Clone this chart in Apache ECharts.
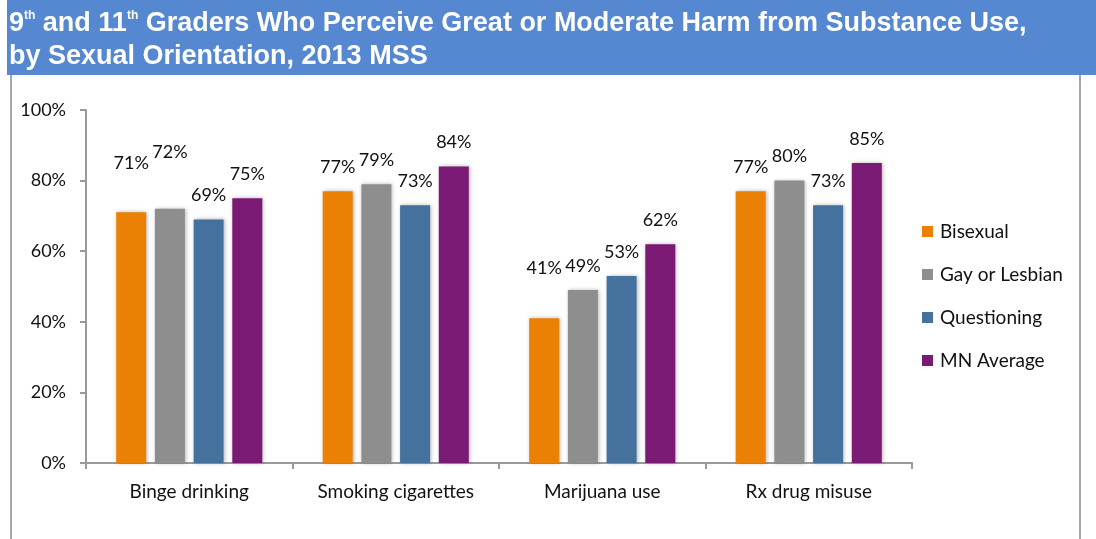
<!DOCTYPE html>
<html>
<head>
<meta charset="utf-8">
<script src="https://cdn.jsdelivr.net/npm/echarts@6/dist/echarts.min.js"></script>
<style>
  html, body { margin: 0; padding: 0; background: #fff; }
  #chart { width: 1096px; height: 539px; }
</style>
</head>
<body>
<div id="chart"></div>
<script>
// Survey categories and the share of students perceiving harm (%)
const categories = ['Binge drinking', 'Smoking cigarettes', 'Marijuana use', 'Rx drug misuse'];
const seriesNames = ['Bisexual', 'Gay or Lesbian', 'Questioning', 'MN Average'];
const bisexual = [71, 77, 41, 77];
const gayLesbian = [72, 79, 49, 80];
const questioning = [69, 73, 53, 73];
const mnAverage = [75, 84, 62, 85];
const yTicks = [0, 20, 40, 60, 80, 100];

const colors = ['#EA8104', '#8E8E8E', '#45719F', '#7B1A74'];
const FONT = 'Lato, "Open Sans", sans-serif';
const TITLE_FONT = '"Liberation Sans", Arial, sans-serif';

// a few value labels sit higher above their bars to avoid crowding
const labelLift = { '0-0': 25, '1-0': 33, '0-2': 26 };

function makeSeries(name, values, si) {
  return {
    name: name,
    type: 'bar',
    barWidth: 30,
    barGap: '29%',
    itemStyle: {
      color: colors[si],
      shadowBlur: 4,
      shadowColor: 'rgba(0,0,0,0.28)',
      shadowOffsetX: 1
    },
    label: {
      show: true,
      position: 'top',
      distance: 15,
      formatter: '{c}%',
      fontFamily: FONT,
      fontSize: 18,
      color: '#111'
    },
    data: values.map(function (v, ci) {
      const lift = labelLift[si + '-' + ci];
      return lift ? { value: v, label: { offset: [0, -lift] } } : v;
    })
  };
}

const chart = echarts.init(document.getElementById('chart'));
chart.setOption({
  animation: false,
  backgroundColor: '#ffffff',
  graphic: [
    { type: 'rect', shape: { x: 7, y: 0, width: 1089, height: 75 }, style: { fill: '#5588D0' }, z: 0 },
    { type: 'line', shape: { x1: 11, y1: 75, x2: 11, y2: 539 }, style: { stroke: '#a6a6a6', lineWidth: 2 } },
    { type: 'line', shape: { x1: 1080, y1: 75, x2: 1080, y2: 539 }, style: { stroke: '#a6a6a6', lineWidth: 2 } }
  ],
  title: {
    left: 4,
    top: 2,
    text: '{m|9}{s|th}{m| and 11}{s|th}{m| Graders Who Perceive Great or Moderate Harm from Substance Use,}\n{m|by Sexual Orientation, 2013 MSS}',
    textStyle: {
      color: '#fff',
      fontFamily: TITLE_FONT,
      fontWeight: 'bold',
      fontSize: 27,
      lineHeight: 33,
      rich: {
        m: { color: '#fff', fontFamily: TITLE_FONT, fontWeight: 'bold', fontSize: 27, lineHeight: 33 },
        s: { color: '#fff', fontFamily: TITLE_FONT, fontWeight: 'bold', fontSize: 12, lineHeight: 33, verticalAlign: 'top', padding: [3, 0, 0, 0] }
      }
    }
  },
  legend: {
    orient: 'vertical',
    left: 917,
    top: 217,
    itemWidth: 11,
    itemHeight: 11,
    itemGap: 24,
    icon: 'rect',
    data: seriesNames,
    textStyle: { fontFamily: FONT, fontSize: 19, color: '#111', padding: [0, 0, 0, 2] }
  },
  grid: { left: 86, right: 184, top: 110, bottom: 76, containLabel: false },
  xAxis: {
    type: 'category',
    data: categories,
    axisLine: { lineStyle: { color: '#9a9a9a', width: 2 } },
    axisTick: { show: true, length: 6, lineStyle: { color: '#9a9a9a', width: 2 } },
    axisLabel: { fontFamily: FONT, fontSize: 19, color: '#111', margin: 19 }
  },
  yAxis: {
    type: 'value',
    min: yTicks[0],
    max: yTicks[yTicks.length - 1],
    interval: yTicks[1] - yTicks[0],
    axisLine: { show: true, lineStyle: { color: '#9a9a9a', width: 2 } },
    axisTick: { show: true, length: 6, lineStyle: { color: '#9a9a9a', width: 2 } },
    splitLine: { show: false },
    axisLabel: { fontFamily: FONT, fontSize: 18, color: '#111', margin: 20, formatter: '{value}%' }
  },
  series: [
    makeSeries(seriesNames[0], bisexual, 0),
    makeSeries(seriesNames[1], gayLesbian, 1),
    makeSeries(seriesNames[2], questioning, 2),
    makeSeries(seriesNames[3], mnAverage, 3)
  ]
});
</script>
</body>
</html>
